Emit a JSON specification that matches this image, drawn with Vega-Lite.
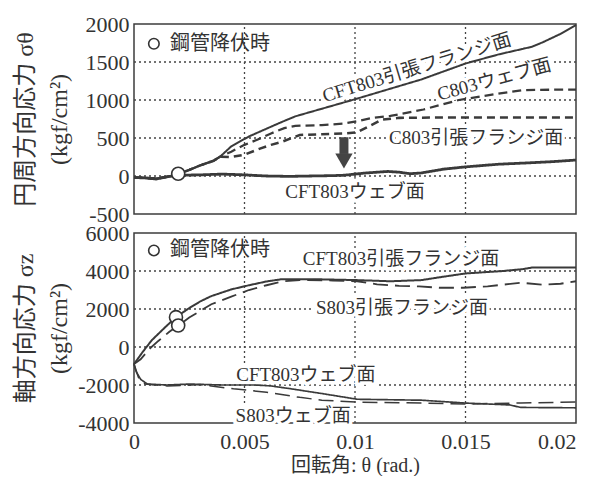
{
  "$schema": "https://vega.github.io/schema/vega-lite/v6.json",
  "padding": {"left": 12, "top": 12, "right": 14, "bottom": 0},
  "spacing": 19,
  "bounds": "flush",
  "resolve": {"scale": {"strokeDash": "independent", "strokeWidth": "independent"}},
  "config": {
    "font": "Liberation Serif, Noto Sans CJK JP",
    "view": {"stroke": "#3c3c3c", "strokeWidth": 1.5},
    "axis": {
      "grid": false,
      "domain": false,
      "ticks": false,
      "labelFont": "Liberation Serif",
      "labelFontSize": 22,
      "labelColor": "#333333",
      "labelExpr": "'' + datum.value",
      "titleFont": "Liberation Serif, Noto Sans CJK JP",
      "titleFontSize": 22,
      "titleFontWeight": "normal",
      "titleColor": "#333333"
    }
  },
  "datasets": {
    "hoopGridX": [
      {"theta": 0.005, "stress": -500, "stressEnd": 2000},
      {"theta": 0.01, "stress": -500, "stressEnd": 2000},
      {"theta": 0.015, "stress": -500, "stressEnd": 2000}
    ],
    "hoopGridY": [
      {"theta": 0, "thetaEnd": 0.02, "stress": 0},
      {"theta": 0, "thetaEnd": 0.02, "stress": 500},
      {"theta": 0, "thetaEnd": 0.02, "stress": 1000},
      {"theta": 0, "thetaEnd": 0.02, "stress": 1500}
    ],
    "axialGridX": [
      {"theta": 0.005, "stress": -4000, "stressEnd": 6000},
      {"theta": 0.01, "stress": -4000, "stressEnd": 6000},
      {"theta": 0.015, "stress": -4000, "stressEnd": 6000}
    ],
    "axialGridY": [
      {"theta": 0, "thetaEnd": 0.02, "stress": -2000},
      {"theta": 0, "thetaEnd": 0.02, "stress": 0},
      {"theta": 0, "thetaEnd": 0.02, "stress": 2000},
      {"theta": 0, "thetaEnd": 0.02, "stress": 4000}
    ],
    "hoop": [
      {"series": "CFT803引張フランジ面", "theta": 0, "stress": -20},
      {"series": "CFT803引張フランジ面", "theta": 0.0005, "stress": -25},
      {"series": "CFT803引張フランジ面", "theta": 0.001, "stress": -35},
      {"series": "CFT803引張フランジ面", "theta": 0.0015, "stress": -10},
      {"series": "CFT803引張フランジ面", "theta": 0.002, "stress": 25},
      {"series": "CFT803引張フランジ面", "theta": 0.0025, "stress": 80},
      {"series": "CFT803引張フランジ面", "theta": 0.003, "stress": 140},
      {"series": "CFT803引張フランジ面", "theta": 0.0036, "stress": 200},
      {"series": "CFT803引張フランジ面", "theta": 0.0039, "stress": 255},
      {"series": "CFT803引張フランジ面", "theta": 0.0044, "stress": 390},
      {"series": "CFT803引張フランジ面", "theta": 0.0052, "stress": 520},
      {"series": "CFT803引張フランジ面", "theta": 0.0059, "stress": 610},
      {"series": "CFT803引張フランジ面", "theta": 0.0066, "stress": 700},
      {"series": "CFT803引張フランジ面", "theta": 0.0073, "stress": 785},
      {"series": "CFT803引張フランジ面", "theta": 0.01, "stress": 1010},
      {"series": "CFT803引張フランジ面", "theta": 0.013, "stress": 1270},
      {"series": "CFT803引張フランジ面", "theta": 0.015, "stress": 1480},
      {"series": "CFT803引張フランジ面", "theta": 0.0165, "stress": 1600},
      {"series": "CFT803引張フランジ面", "theta": 0.018, "stress": 1700},
      {"series": "CFT803引張フランジ面", "theta": 0.0185, "stress": 1760},
      {"series": "CFT803引張フランジ面", "theta": 0.0193, "stress": 1870},
      {"series": "CFT803引張フランジ面", "theta": 0.02, "stress": 1985},

      {"series": "C803ウェブ面", "theta": 0, "stress": -20},
      {"series": "C803ウェブ面", "theta": 0.0005, "stress": -25},
      {"series": "C803ウェブ面", "theta": 0.001, "stress": -35},
      {"series": "C803ウェブ面", "theta": 0.0015, "stress": -10},
      {"series": "C803ウェブ面", "theta": 0.002, "stress": 25},
      {"series": "C803ウェブ面", "theta": 0.0025, "stress": 80},
      {"series": "C803ウェブ面", "theta": 0.003, "stress": 140},
      {"series": "C803ウェブ面", "theta": 0.0036, "stress": 200},
      {"series": "C803ウェブ面", "theta": 0.0039, "stress": 255},
      {"series": "C803ウェブ面", "theta": 0.0044, "stress": 320},
      {"series": "C803ウェブ面", "theta": 0.005, "stress": 410},
      {"series": "C803ウェブ面", "theta": 0.0056, "stress": 480},
      {"series": "C803ウェブ面", "theta": 0.0062, "stress": 560},
      {"series": "C803ウェブ面", "theta": 0.0068, "stress": 630},
      {"series": "C803ウェブ面", "theta": 0.0073, "stress": 660},
      {"series": "C803ウェブ面", "theta": 0.0085, "stress": 670},
      {"series": "C803ウェブ面", "theta": 0.0095, "stress": 690},
      {"series": "C803ウェブ面", "theta": 0.0101, "stress": 720},
      {"series": "C803ウェブ面", "theta": 0.0108, "stress": 765},
      {"series": "C803ウェブ面", "theta": 0.0116, "stress": 790},
      {"series": "C803ウェブ面", "theta": 0.0131, "stress": 875},
      {"series": "C803ウェブ面", "theta": 0.0147, "stress": 1000},
      {"series": "C803ウェブ面", "theta": 0.0162, "stress": 1070},
      {"series": "C803ウェブ面", "theta": 0.0176, "stress": 1130},
      {"series": "C803ウェブ面", "theta": 0.0188, "stress": 1135},
      {"series": "C803ウェブ面", "theta": 0.02, "stress": 1135},

      {"series": "C803引張フランジ面", "theta": 0, "stress": -20},
      {"series": "C803引張フランジ面", "theta": 0.0005, "stress": -25},
      {"series": "C803引張フランジ面", "theta": 0.001, "stress": -35},
      {"series": "C803引張フランジ面", "theta": 0.0015, "stress": -10},
      {"series": "C803引張フランジ面", "theta": 0.002, "stress": 25},
      {"series": "C803引張フランジ面", "theta": 0.0025, "stress": 80},
      {"series": "C803引張フランジ面", "theta": 0.003, "stress": 140},
      {"series": "C803引張フランジ面", "theta": 0.0036, "stress": 200},
      {"series": "C803引張フランジ面", "theta": 0.0039, "stress": 255},
      {"series": "C803引張フランジ面", "theta": 0.0044, "stress": 250},
      {"series": "C803引張フランジ面", "theta": 0.005, "stress": 280},
      {"series": "C803引張フランジ面", "theta": 0.0057, "stress": 360},
      {"series": "C803引張フランジ面", "theta": 0.0062, "stress": 410},
      {"series": "C803引張フランジ面", "theta": 0.0067, "stress": 450},
      {"series": "C803引張フランジ面", "theta": 0.0075, "stress": 540},
      {"series": "C803引張フランジ面", "theta": 0.0085, "stress": 550},
      {"series": "C803引張フランジ面", "theta": 0.0095, "stress": 560},
      {"series": "C803引張フランジ面", "theta": 0.0101, "stress": 575},
      {"series": "C803引張フランジ面", "theta": 0.0106, "stress": 650},
      {"series": "C803引張フランジ面", "theta": 0.0112, "stress": 740},
      {"series": "C803引張フランジ面", "theta": 0.012, "stress": 765},
      {"series": "C803引張フランジ面", "theta": 0.014, "stress": 770},
      {"series": "C803引張フランジ面", "theta": 0.017, "stress": 770},
      {"series": "C803引張フランジ面", "theta": 0.02, "stress": 770},

      {"series": "CFT803ウェブ面", "theta": 0, "stress": -20},
      {"series": "CFT803ウェブ面", "theta": 0.0005, "stress": -25},
      {"series": "CFT803ウェブ面", "theta": 0.001, "stress": -40},
      {"series": "CFT803ウェブ面", "theta": 0.0015, "stress": -10},
      {"series": "CFT803ウェブ面", "theta": 0.002, "stress": 10},
      {"series": "CFT803ウェブ面", "theta": 0.003, "stress": 15},
      {"series": "CFT803ウェブ面", "theta": 0.004, "stress": 25},
      {"series": "CFT803ウェブ面", "theta": 0.005, "stress": 15},
      {"series": "CFT803ウェブ面", "theta": 0.006, "stress": 0},
      {"series": "CFT803ウェブ面", "theta": 0.007, "stress": -5},
      {"series": "CFT803ウェブ面", "theta": 0.008, "stress": 0},
      {"series": "CFT803ウェブ面", "theta": 0.009, "stress": 5},
      {"series": "CFT803ウェブ面", "theta": 0.0095, "stress": 10},
      {"series": "CFT803ウェブ面", "theta": 0.0105, "stress": 40},
      {"series": "CFT803ウェブ面", "theta": 0.0115, "stress": 60},
      {"series": "CFT803ウェブ面", "theta": 0.012, "stress": 50},
      {"series": "CFT803ウェブ面", "theta": 0.0125, "stress": 30},
      {"series": "CFT803ウェブ面", "theta": 0.013, "stress": 40},
      {"series": "CFT803ウェブ面", "theta": 0.014, "stress": 90},
      {"series": "CFT803ウェブ面", "theta": 0.015, "stress": 120},
      {"series": "CFT803ウェブ面", "theta": 0.0165, "stress": 155},
      {"series": "CFT803ウェブ面", "theta": 0.018, "stress": 175},
      {"series": "CFT803ウェブ面", "theta": 0.019, "stress": 190},
      {"series": "CFT803ウェブ面", "theta": 0.02, "stress": 210}
    ],
    "axial": [
      {"series": "CFT803引張フランジ面", "theta": 0, "stress": -900},
      {"series": "CFT803引張フランジ面", "theta": 0.0004, "stress": -250},
      {"series": "CFT803引張フランジ面", "theta": 0.0008, "stress": 350},
      {"series": "CFT803引張フランジ面", "theta": 0.0014, "stress": 1030},
      {"series": "CFT803引張フランジ面", "theta": 0.0019, "stress": 1570},
      {"series": "CFT803引張フランジ面", "theta": 0.0025, "stress": 2050},
      {"series": "CFT803引張フランジ面", "theta": 0.003, "stress": 2400},
      {"series": "CFT803引張フランジ面", "theta": 0.0035, "stress": 2680},
      {"series": "CFT803引張フランジ面", "theta": 0.0044, "stress": 3030},
      {"series": "CFT803引張フランジ面", "theta": 0.0052, "stress": 3250},
      {"series": "CFT803引張フランジ面", "theta": 0.006, "stress": 3450},
      {"series": "CFT803引張フランジ面", "theta": 0.0067, "stress": 3570},
      {"series": "CFT803引張フランジ面", "theta": 0.0085, "stress": 3560},
      {"series": "CFT803引張フランジ面", "theta": 0.0101, "stress": 3520},
      {"series": "CFT803引張フランジ面", "theta": 0.0116, "stress": 3460},
      {"series": "CFT803引張フランジ面", "theta": 0.013, "stress": 3520},
      {"series": "CFT803引張フランジ面", "theta": 0.014, "stress": 3700},
      {"series": "CFT803引張フランジ面", "theta": 0.015, "stress": 3870},
      {"series": "CFT803引張フランジ面", "theta": 0.0167, "stress": 4000},
      {"series": "CFT803引張フランジ面", "theta": 0.0176, "stress": 4100},
      {"series": "CFT803引張フランジ面", "theta": 0.018, "stress": 4180},
      {"series": "CFT803引張フランジ面", "theta": 0.02, "stress": 4180},

      {"series": "S803引張フランジ面", "theta": 0, "stress": -900},
      {"series": "S803引張フランジ面", "theta": 0.0003, "stress": -650},
      {"series": "S803引張フランジ面", "theta": 0.0007, "stress": -100},
      {"series": "S803引張フランジ面", "theta": 0.0011, "stress": 320},
      {"series": "S803引張フランジ面", "theta": 0.0016, "stress": 800},
      {"series": "S803引張フランジ面", "theta": 0.002, "stress": 1130},
      {"series": "S803引張フランジ面", "theta": 0.0025, "stress": 1550},
      {"series": "S803引張フランジ面", "theta": 0.003, "stress": 1900},
      {"series": "S803引張フランジ面", "theta": 0.0035, "stress": 2250},
      {"series": "S803引張フランジ面", "theta": 0.0044, "stress": 2650},
      {"series": "S803引張フランジ面", "theta": 0.0052, "stress": 3000},
      {"series": "S803引張フランジ面", "theta": 0.006, "stress": 3250},
      {"series": "S803引張フランジ面", "theta": 0.0067, "stress": 3450},
      {"series": "S803引張フランジ面", "theta": 0.0075, "stress": 3520},
      {"series": "S803引張フランジ面", "theta": 0.009, "stress": 3500},
      {"series": "S803引張フランジ面", "theta": 0.0101, "stress": 3460},
      {"series": "S803引張フランジ面", "theta": 0.011, "stress": 3300},
      {"series": "S803引張フランジ面", "theta": 0.012, "stress": 3220},
      {"series": "S803引張フランジ面", "theta": 0.0129, "stress": 3190},
      {"series": "S803引張フランジ面", "theta": 0.0138, "stress": 3120},
      {"series": "S803引張フランジ面", "theta": 0.0149, "stress": 3120},
      {"series": "S803引張フランジ面", "theta": 0.016, "stress": 3190},
      {"series": "S803引張フランジ面", "theta": 0.0175, "stress": 3380},
      {"series": "S803引張フランジ面", "theta": 0.0185, "stress": 3280},
      {"series": "S803引張フランジ面", "theta": 0.0193, "stress": 3330},
      {"series": "S803引張フランジ面", "theta": 0.02, "stress": 3460},

      {"series": "CFT803ウェブ面", "theta": 0, "stress": -900},
      {"series": "CFT803ウェブ面", "theta": 0.0001, "stress": -1300},
      {"series": "CFT803ウェブ面", "theta": 0.0003, "stress": -1700},
      {"series": "CFT803ウェブ面", "theta": 0.0006, "stress": -1950},
      {"series": "CFT803ウェブ面", "theta": 0.0015, "stress": -2000},
      {"series": "CFT803ウェブ面", "theta": 0.0025, "stress": -1950},
      {"series": "CFT803ウェブ面", "theta": 0.004, "stress": -2000},
      {"series": "CFT803ウェブ面", "theta": 0.0055, "stress": -2000},
      {"series": "CFT803ウェブ面", "theta": 0.0062, "stress": -2050},
      {"series": "CFT803ウェブ面", "theta": 0.0071, "stress": -2200},
      {"series": "CFT803ウェブ面", "theta": 0.0085, "stress": -2450},
      {"series": "CFT803ウェブ面", "theta": 0.0101, "stress": -2750},
      {"series": "CFT803ウェブ面", "theta": 0.013, "stress": -2800},
      {"series": "CFT803ウェブ面", "theta": 0.015, "stress": -2950},
      {"series": "CFT803ウェブ面", "theta": 0.017, "stress": -3050},
      {"series": "CFT803ウェブ面", "theta": 0.0175, "stress": -3180},
      {"series": "CFT803ウェブ面", "theta": 0.02, "stress": -3200},

      {"series": "S803ウェブ面", "theta": 0, "stress": -900},
      {"series": "S803ウェブ面", "theta": 0.0002, "stress": -1600},
      {"series": "S803ウェブ面", "theta": 0.0005, "stress": -1950},
      {"series": "S803ウェブ面", "theta": 0.0015, "stress": -2050},
      {"series": "S803ウェブ面", "theta": 0.003, "stress": -1980},
      {"series": "S803ウェブ面", "theta": 0.0045, "stress": -2200},
      {"series": "S803ウェブ面", "theta": 0.006, "stress": -2380},
      {"series": "S803ウェブ面", "theta": 0.0075, "stress": -2650},
      {"series": "S803ウェブ面", "theta": 0.0085, "stress": -2800},
      {"series": "S803ウェブ面", "theta": 0.0101, "stress": -2900},
      {"series": "S803ウェブ面", "theta": 0.013, "stress": -2950},
      {"series": "S803ウェブ面", "theta": 0.015, "stress": -3000},
      {"series": "S803ウェブ面", "theta": 0.0175, "stress": -2950},
      {"series": "S803ウェブ面", "theta": 0.02, "stress": -2900}
    ],
    "hoopYield": [{"theta": 0.002, "stress": 30}],
    "axialYield": [
      {"theta": 0.0019, "stress": 1570},
      {"theta": 0.002, "stress": 1130}
    ],
    "hoopKey": [{"theta": 0.0009, "stress": 1740, "text": "鋼管降伏時"}],
    "axialKey": [{"theta": 0.0009, "stress": 5080, "text": "鋼管降伏時"}],
    "hoopLabels": [
      {"text": "CFT803引張フランジ面", "theta": 0.0128, "stress": 1425},
      {"text": "C803ウェブ面", "theta": 0.0163, "stress": 1270},
      {"text": "C803引張フランジ面", "theta": 0.01548, "stress": 497},
      {"text": "CFT803ウェブ面", "theta": 0.01, "stress": -210}
    ],
    "axialLabels": [
      {"text": "CFT803引張フランジ面", "theta": 0.01208, "stress": 4650},
      {"text": "S803引張フランジ面", "theta": 0.01213, "stress": 2050},
      {"text": "CFT803ウェブ面", "theta": 0.00778, "stress": -1460},
      {"text": "S803ウェブ面", "theta": 0.0072, "stress": -3620}
    ],
    "arrowShaft": [{"theta": 0.0095, "top": 510, "bottom": 290}],
    "arrowHead": [{"theta": 0.0095, "stress": 196}]
  },
  "vconcat": [
    {
      "width": 442,
      "height": 190,
      "encoding": {
        "x": {
          "field": "theta",
          "type": "quantitative",
          "scale": {"domain": [0, 0.02], "nice": false, "zero": false},
          "axis": {"values": [0, 0.005, 0.01, 0.015, 0.02], "labels": false, "title": null}
        },
        "y": {
          "field": "stress",
          "type": "quantitative",
          "scale": {"domain": [-500, 2000], "nice": false, "zero": false},
          "axis": {
            "values": [-500, 0, 500, 1000, 1500, 2000],
            "labelPadding": 5,
            "title": ["円周方向応力 σθ", "(kgf/cm²)"],
            "titleFontSize": 24,
            "titleAngle": -90,
            "titleX": -121,
            "titleY": 95,
            "titleAlign": "center",
            "titleBaseline": "top",
            "titleLineHeight": 34
          }
        }
      },
      "layer": [
        {
          "data": {"name": "hoopGridX"},
          "mark": {"type": "rule", "color": "#444444", "strokeWidth": 1.3, "strokeDash": [2, 3]},
          "encoding": {"y2": {"field": "stressEnd"}}
        },
        {
          "data": {"name": "hoopGridY"},
          "mark": {"type": "rule", "color": "#444444", "strokeWidth": 1.3, "strokeDash": [2, 3]},
          "encoding": {"x2": {"field": "thetaEnd"}}
        },
        {
          "data": {"name": "hoopLabels"},
          "transform": [{"filter": "datum.text == 'CFT803引張フランジ面'"}],
          "mark": {"type": "text", "align": "center", "baseline": "middle", "angle": -17, "fontSize": 19, "color": "white", "stroke": "white", "strokeWidth": 7},
          "encoding": {"text": {"field": "text"}}
        },
        {
          "data": {"name": "hoopLabels"},
          "transform": [{"filter": "datum.text == 'C803ウェブ面'"}],
          "mark": {"type": "text", "align": "center", "baseline": "middle", "angle": -15, "fontSize": 19, "color": "white", "stroke": "white", "strokeWidth": 7},
          "encoding": {"text": {"field": "text"}}
        },
        {
          "data": {"name": "hoopLabels"},
          "transform": [{"filter": "datum.text == 'C803引張フランジ面' || datum.text == 'CFT803ウェブ面'"}],
          "mark": {"type": "text", "align": "center", "baseline": "middle", "fontSize": 19, "color": "white", "stroke": "white", "strokeWidth": 7},
          "encoding": {"text": {"field": "text"}}
        },
        {
          "data": {"name": "hoop"},
          "mark": {"type": "line", "color": "#3a3a3a", "strokeCap": "butt"},
          "encoding": {
            "detail": {"field": "series"},
            "strokeDash": {
              "field": "series",
              "type": "nominal",
              "scale": {
                "domain": ["CFT803引張フランジ面", "C803ウェブ面", "C803引張フランジ面", "CFT803ウェブ面"],
                "range": [[1, 0], [9, 5], [8, 5], [1, 0]]
              },
              "legend": null
            },
            "strokeWidth": {
              "field": "series",
              "type": "nominal",
              "scale": {
                "domain": ["CFT803引張フランジ面", "C803ウェブ面", "C803引張フランジ面", "CFT803ウェブ面"],
                "range": [2, 2.8, 1.6, 2.8]
              },
              "legend": null
            }
          }
        },
        {
          "data": {"name": "arrowShaft"},
          "mark": {"type": "rule", "color": "#444444", "strokeWidth": 9, "strokeCap": "butt"},
          "encoding": {
            "y": {"field": "top", "type": "quantitative"},
            "y2": {"field": "bottom"}
          }
        },
        {
          "data": {"name": "arrowHead"},
          "mark": {"type": "point", "shape": "triangle-down", "filled": true, "color": "#444444", "size": 300, "opacity": 1}
        },
        {
          "data": {"name": "hoopYield"},
          "mark": {"type": "point", "shape": "circle", "filled": true, "fill": "white", "stroke": "#333333", "strokeWidth": 1.6, "size": 170, "opacity": 1}
        },
        {
          "data": {"name": "hoopKey"},
          "mark": {"type": "point", "shape": "circle", "filled": true, "fill": "white", "stroke": "#333333", "strokeWidth": 1.6, "size": 110, "opacity": 1}
        },
        {
          "data": {"name": "hoopKey"},
          "mark": {"type": "text", "align": "left", "baseline": "middle", "dx": 16, "fontSize": 20, "color": "#333333", "font": "Noto Sans CJK JP"},
          "encoding": {"text": {"field": "text"}}
        },
        {
          "data": {"name": "hoopLabels"},
          "transform": [{"filter": "datum.text == 'CFT803引張フランジ面'"}],
          "mark": {"type": "text", "align": "center", "baseline": "middle", "angle": -17, "fontSize": 19, "color": "#333333"},
          "encoding": {"text": {"field": "text"}}
        },
        {
          "data": {"name": "hoopLabels"},
          "transform": [{"filter": "datum.text == 'C803ウェブ面'"}],
          "mark": {"type": "text", "align": "center", "baseline": "middle", "angle": -15, "fontSize": 19, "color": "#333333"},
          "encoding": {"text": {"field": "text"}}
        },
        {
          "data": {"name": "hoopLabels"},
          "transform": [{"filter": "datum.text == 'C803引張フランジ面' || datum.text == 'CFT803ウェブ面'"}],
          "mark": {"type": "text", "align": "center", "baseline": "middle", "fontSize": 19, "color": "#333333"},
          "encoding": {"text": {"field": "text"}}
        }
      ]
    },
    {
      "width": 442,
      "height": 190,
      "encoding": {
        "x": {
          "field": "theta",
          "type": "quantitative",
          "scale": {"domain": [0, 0.02], "nice": false, "zero": false},
          "axis": {
            "values": [0, 0.005, 0.01, 0.015, 0.02],
            "labelPadding": 8,
            "labelAlign": {"condition": {"test": "datum.value >= 0.02", "value": "right"}, "value": "center"},
            "title": "回転角: θ (rad.)",
            "titleFontSize": 20,
            "titlePadding": 3
          }
        },
        "y": {
          "field": "stress",
          "type": "quantitative",
          "scale": {"domain": [-4000, 6000], "nice": false, "zero": false},
          "axis": {
            "values": [-4000, -2000, 0, 2000, 4000, 6000],
            "labelPadding": 5,
            "title": ["軸方向応力 σz", "(kgf/cm²)"],
            "titleFontSize": 24,
            "titleAngle": -90,
            "titleX": -121,
            "titleY": 95,
            "titleAlign": "center",
            "titleBaseline": "top",
            "titleLineHeight": 34
          }
        }
      },
      "layer": [
        {
          "data": {"name": "axialGridX"},
          "mark": {"type": "rule", "color": "#444444", "strokeWidth": 1.3, "strokeDash": [2, 3]},
          "encoding": {"y2": {"field": "stressEnd"}}
        },
        {
          "data": {"name": "axialGridY"},
          "mark": {"type": "rule", "color": "#444444", "strokeWidth": 1.3, "strokeDash": [2, 3]},
          "encoding": {"x2": {"field": "thetaEnd"}}
        },
        {
          "data": {"name": "axialLabels"},
          "mark": {"type": "text", "align": "center", "baseline": "middle", "fontSize": 19, "color": "white", "stroke": "white", "strokeWidth": 7},
          "encoding": {"text": {"field": "text"}}
        },
        {
          "data": {"name": "axial"},
          "mark": {"type": "line", "color": "#3a3a3a", "strokeCap": "butt"},
          "encoding": {
            "detail": {"field": "series"},
            "strokeDash": {
              "field": "series",
              "type": "nominal",
              "scale": {
                "domain": ["CFT803引張フランジ面", "S803引張フランジ面", "CFT803ウェブ面", "S803ウェブ面"],
                "range": [[1, 0], [15, 7], [1, 0], [15, 7]]
              },
              "legend": null
            },
            "strokeWidth": {
              "field": "series",
              "type": "nominal",
              "scale": {
                "domain": ["CFT803引張フランジ面", "S803引張フランジ面", "CFT803ウェブ面", "S803ウェブ面"],
                "range": [2, 1.5, 2.4, 2]
              },
              "legend": null
            }
          }
        },
        {
          "data": {"name": "axialYield"},
          "mark": {"type": "point", "shape": "circle", "filled": true, "fill": "white", "stroke": "#333333", "strokeWidth": 1.6, "size": 170, "opacity": 1}
        },
        {
          "data": {"name": "axialKey"},
          "mark": {"type": "point", "shape": "circle", "filled": true, "fill": "white", "stroke": "#333333", "strokeWidth": 1.6, "size": 110, "opacity": 1}
        },
        {
          "data": {"name": "axialKey"},
          "mark": {"type": "text", "align": "left", "baseline": "middle", "dx": 16, "fontSize": 20, "color": "#333333", "font": "Noto Sans CJK JP"},
          "encoding": {"text": {"field": "text"}}
        },
        {
          "data": {"name": "axialLabels"},
          "mark": {"type": "text", "align": "center", "baseline": "middle", "fontSize": 19, "color": "#333333"},
          "encoding": {"text": {"field": "text"}}
        }
      ]
    }
  ]
}
